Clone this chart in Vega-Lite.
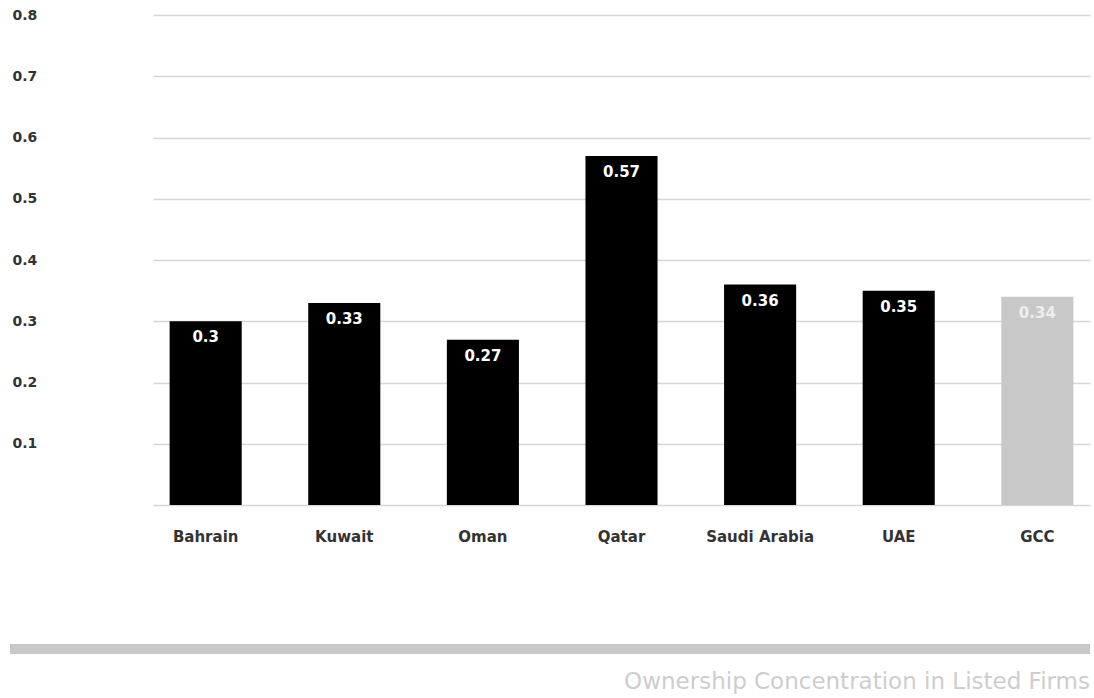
{
  "$schema": "https://vega.github.io/schema/vega-lite/v6.json",
  "background": "white",
  "padding": {"left": 10, "top": 8, "right": 4, "bottom": 4},
  "config": {"view": {"stroke": null}, "font": "DejaVu Sans"},
  "datasets": {
    "ownership": [
      {"region": "Bahrain", "concentration": 0.3, "group": "country"},
      {"region": "Kuwait", "concentration": 0.33, "group": "country"},
      {"region": "Oman", "concentration": 0.27, "group": "country"},
      {"region": "Qatar", "concentration": 0.57, "group": "country"},
      {"region": "Saudi Arabia", "concentration": 0.36, "group": "country"},
      {"region": "UAE", "concentration": 0.35, "group": "country"},
      {"region": "GCC", "concentration": 0.34, "group": "gcc"}
    ]
  },
  "title": {
    "text": "Ownership Concentration in Listed Firms",
    "orient": "bottom",
    "anchor": "end",
    "font": "DejaVu Sans",
    "fontSize": 23,
    "fontWeight": "normal",
    "color": "#cdcdcd",
    "offset": 17
  },
  "spacing": 100,
  "vconcat": [
    {
      "width": 1080,
      "height": 490,
      "data": {"name": "ownership"},
      "encoding": {
        "x": {
          "field": "region",
          "type": "nominal",
          "sort": null,
          "scale": {"range": [143, 1080], "paddingInner": 0.48, "paddingOuter": 0.12},
          "axis": {
            "title": null,
            "labelAngle": 0,
            "domain": false,
            "ticks": false,
            "labelPadding": 24,
            "labelFontSize": 15,
            "labelFontWeight": "bold",
            "labelColor": "#333333"
          }
        },
        "y": {
          "field": "concentration",
          "type": "quantitative",
          "scale": {"domain": [0, 0.8]},
          "axis": {
            "title": null,
            "values": [0, 0.1, 0.2, 0.3, 0.4, 0.5, 0.6, 0.7, 0.8],
            "labelExpr": "datum.value == 0 ? '' : datum.label",
            "domain": false,
            "ticks": false,
            "labelAlign": "left",
            "labelPadding": -2,
            "labelFontSize": 14,
            "labelFontWeight": "bold",
            "labelColor": "#333333",
            "gridColor": "#d6d6d6",
            "gridWidth": 1.5
          }
        }
      },
      "layer": [
        {
          "mark": {"type": "bar"},
          "encoding": {
            "color": {
              "field": "group",
              "type": "nominal",
              "scale": {"domain": ["country", "gcc"], "range": ["#000000", "#c8c8c8"]},
              "legend": null
            }
          }
        },
        {
          "mark": {"type": "text", "baseline": "middle", "dy": 16, "fontSize": 15, "fontWeight": "bold"},
          "encoding": {
            "text": {"field": "concentration", "type": "quantitative"},
            "color": {
              "field": "group",
              "type": "nominal",
              "scale": {"domain": ["country", "gcc"], "range": ["#ffffff", "#eeeeee"]},
              "legend": null
            }
          }
        }
      ],
      "resolve": {"scale": {"color": "independent"}}
    },
    {
      "width": 1080,
      "height": 10,
      "data": {"values": [{"band": "separator"}]},
      "mark": {"type": "rect", "color": "#c8c8c8"},
      "encoding": {}
    }
  ]
}
